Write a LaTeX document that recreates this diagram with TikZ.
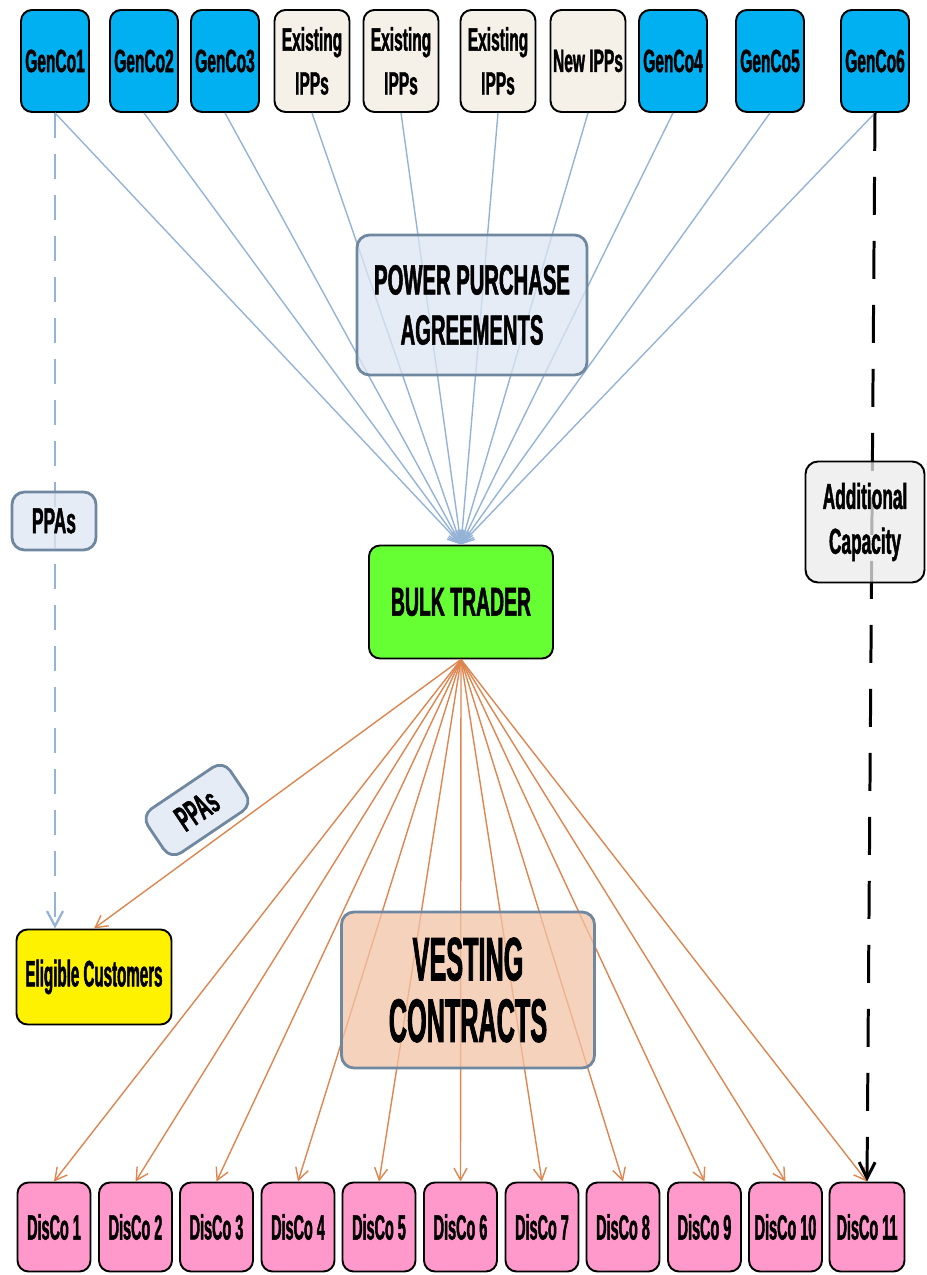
\documentclass[tikz,border=0pt]{standalone}
\usepackage{fontspec}
\setmainfont{Liberation Sans}[FakeStretch=0.48, FakeBold=1.2]
\newfontfamily\narrowfont{Liberation Sans}[FakeStretch=0.41, FakeBold=1.2]
\usetikzlibrary{arrows.meta}
\definecolor{genblue}{HTML}{00B0F0}
\definecolor{ippcream}{HTML}{F6F1E8}
\definecolor{discopink}{HTML}{FF99CC}
\definecolor{bulkgreen}{HTML}{66FF33}
\definecolor{tagfill}{HTML}{DCE6F2}
\definecolor{tagedge}{HTML}{6F879F}
\definecolor{vestfill}{HTML}{F2C3A6}
\definecolor{addgray}{HTML}{EBEBEB}
\definecolor{ppablue}{HTML}{95B3D7}
\definecolor{vestorange}{HTML}{DE8650}
\begin{document}
\begin{tikzpicture}[
    box/.style={draw=black, line width=1.1pt, rounded corners=0.22cm, align=center, inner sep=0pt},
    genco/.style={box, fill=genblue, minimum width=1.36cm, minimum height=2.04cm, font=\bfseries\fontsize{18.4}{25}\selectfont},
    ipp/.style={genco, fill=ippcream, minimum width=1.5cm},
    disco/.style={box, fill=discopink, minimum width=1.46cm, minimum height=1.78cm, font=\narrowfont\bfseries\fontsize{20}{22}\selectfont},
    tag/.style={draw=tagedge, line width=1.6pt, fill=tagfill, fill opacity=0.75, text opacity=1, rounded corners=0.25cm, align=center, inner sep=0pt},
    ppaline/.style={draw=ppablue, line width=0.8pt, -{Straight Barb[length=2.4mm, width=2.6mm]}},
    vestline/.style={draw=vestorange, line width=0.8pt, -{Straight Barb[length=2.4mm, width=2.6mm]}}
  ]
  \useasboundingbox (0, 0) rectangle (18.52, 25.5);

  % generators along the top
  \node[genco] (g1) at (1.10, 24.28){GenCo1};
  \node[genco] (g2) at (2.88, 24.28){GenCo2};
  \node[genco] (g3) at (4.50, 24.28){GenCo3};
  \node[ipp] (ipp1) at (6.24, 24.28){Existing\\IPPs};
  \node[ipp] (ipp2) at (8.02, 24.28){Existing\\IPPs};
  \node[ipp] (ipp3) at (9.96, 24.28){Existing\\IPPs};
  \node[ipp] (ipp4) at (11.76, 24.28){New IPPs};
  \node[genco] (g4) at (13.46, 24.28){GenCo4};
  \node[genco] (g5) at (15.40, 24.28){GenCo5};
  \node[genco] (g6) at (17.50, 24.28){GenCo6};

  \node[box, fill=bulkgreen, minimum width=3.68cm, minimum height=2.26cm, font=\bfseries\fontsize{23}{26}\selectfont] (bulk) at (9.22, 13.46){BULK TRADER};
  \node[box, fill=yellow, minimum width=3.1cm, minimum height=1.9cm, font=\narrowfont\bfseries\fontsize{21}{24}\selectfont] (elig) at (1.88, 5.96){Eligible Customers};

  % distribution companies along the bottom
  \node[disco] (d1) at (1.08, 0.96){DisCo 1};
  \node[disco] (d2) at (2.71, 0.96){DisCo 2};
  \node[disco] (d3) at (4.33, 0.96){DisCo 3};
  \node[disco] (d4) at (5.96, 0.96){DisCo 4};
  \node[disco] (d5) at (7.58, 0.96){DisCo 5};
  \node[disco] (d6) at (9.21, 0.96){DisCo 6};
  \node[disco] (d7) at (10.84, 0.96){DisCo 7};
  \node[disco] (d8) at (12.46, 0.96){DisCo 8};
  \node[disco] (d9) at (14.09, 0.96){DisCo 9};
  \node[disco] (d10) at (15.71, 0.96){DisCo 10};
  \node[disco, minimum width=1.5cm] (d11) at (17.34, 0.96){DisCo 11};

  % power purchase agreements into the bulk trader
  \foreach \src in {g1, g2, g3, ipp1, ipp2, ipp3, ipp4, g4, g5, g6}
    \draw[ppaline] (\src.south) to (bulk.north);

  % vesting contracts out of the bulk trader
  \foreach \dst in {d1, d2, d3, d4, d5, d6, d7, d8, d9, d10, d11}
    \draw[vestline] (bulk.south) to (\dst.north);
  \draw[vestline] (bulk.south) to (elig.north);

  \draw[draw=ppablue, line width=1.3pt, dash pattern=on 0.5cm off 0.32cm, -{Straight Barb[length=3mm, width=3.2mm]}] (g1.south) to (g1.south |- elig.north);
  \draw[line width=1.7pt, dash pattern=on 0.76cm off 0.52cm, -{Straight Barb[length=3.2mm, width=3.2mm]}] (g6.south) to (d11.north);

  % labels laid over the connectors
  \node[tag, minimum width=4.6cm, minimum height=2.8cm, font=\bfseries\fontsize{24}{28.5}\selectfont] (ppa) at (9.44, 19.40){POWER PURCHASE\\AGREEMENTS};
  \node[tag, minimum width=1.68cm, minimum height=1.16cm, font=\bfseries\fontsize{20.5}{24}\selectfont] (ppaleft) at (1.08, 15.08){PPAs};
  \node[tag, rotate=34, minimum width=1.98cm, minimum height=1.06cm, font=\bfseries\fontsize{20.5}{24}\selectfont] (ppaelig) at (3.94, 9.30){PPAs};
  \node[tag, fill=vestfill, minimum width=5.06cm, minimum height=3.12cm, font=\narrowfont\bfseries\fontsize{35}{35}\selectfont] (vest) at (9.36, 5.70){VESTING\\CONTRACTS};
  \node[tag, draw=black, line width=1.1pt, fill=addgray, minimum width=2.38cm, minimum height=2.42cm, font=\bfseries\fontsize{20.5}{25.5}\selectfont] (addcap) at (17.30, 15.06){Additional\\Capacity};
\end{tikzpicture}
\end{document}
